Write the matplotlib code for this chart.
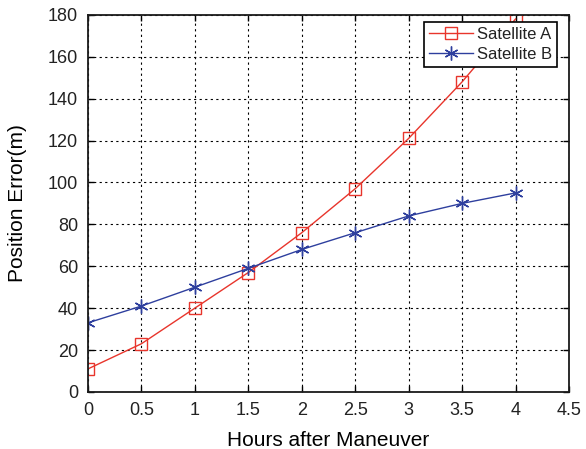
import matplotlib
matplotlib.use("Agg")
import matplotlib.pyplot as plt

plt.rcParams['font.family'] = ['Liberation Sans', 'DejaVu Sans']
plt.rcParams['text.color'] = '#222222'
plt.rcParams['xtick.labelcolor'] = '#222222'
plt.rcParams['ytick.labelcolor'] = '#222222'

hours = [0, 0.5, 1, 1.5, 2, 2.5, 3, 3.5, 4]
sat_a = [11, 23, 40, 57, 76, 97, 121, 148, 178]
sat_b = [33, 41, 50, 59, 68, 76, 84, 90, 95]
x_ticks = [0, 0.5, 1, 1.5, 2, 2.5, 3, 3.5, 4, 4.5]
x_tick_labels = ['0', '0.5', '1', '1.5', '2', '2.5', '3', '3.5', '4', '4.5']
y_ticks = list(range(0, 181, 20))

fig = plt.figure(figsize=(5.86, 4.49), dpi=100)
ax = fig.add_axes([0.150, 0.127, 0.821, 0.840])

ax.plot(hours, sat_a, color='#e8352c', lw=1.0, marker='s', markersize=9,
        markerfacecolor='none', markeredgecolor='#e8352c', markeredgewidth=1.0,
        label='Satellite A')
ax.plot(hours, sat_b, color='#2e3f9e', lw=1.0, marker=(6, 2, 0), markersize=10,
        markeredgecolor='#2e3f9e', markeredgewidth=1.0, label='Satellite B')

ax.set_xlim(0, 4.5)
ax.set_ylim(0, 180)
ax.set_xticks(x_ticks)
ax.set_xticklabels(x_tick_labels)
ax.set_yticks(y_ticks)
ax.tick_params(labelsize=13, direction='in', length=4, width=1, top=True, right=True,
               pad=7)
ax.grid(True, color='black', linestyle=(0, (2, 3)), linewidth=0.8)
for s in ax.spines.values():
    s.set_linewidth(1.3)
    s.set_color('#1a1a1a')

ax.set_xlabel('Hours after Maneuver', fontsize=15, labelpad=9)
ax.set_ylabel('Position Error(m)', fontsize=15, labelpad=15)

leg = ax.legend(loc='upper right', bbox_to_anchor=(0.975, 0.981), borderaxespad=0,
                fontsize=12, fancybox=False, framealpha=1,
                edgecolor='black', borderpad=0.3, handlelength=2.6,
                handletextpad=0.25, labelspacing=0.3)
leg.get_frame().set_linewidth(1.2)

fig.savefig('out.png', dpi=100)
